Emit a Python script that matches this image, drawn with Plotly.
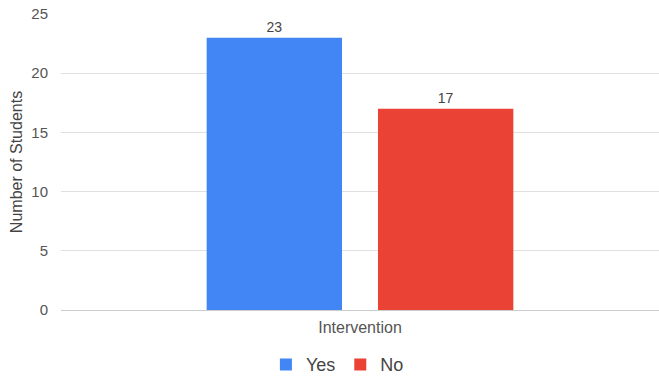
import plotly.graph_objects as go

categories = ["Intervention"]
series_names = ["Yes", "No"]
series_values = [[23], [17]]
series_colors = ["#4285F4", "#EA4335"]
y_ticks = [0, 5, 10, 15, 20, 25]

FONT = "Liberation Sans, Arial, sans-serif"

fig = go.Figure()
for name, vals, col in zip(series_names, series_values, series_colors):
    fig.add_trace(go.Bar(
        x=categories, y=vals, name=name, marker=dict(color=col, line=dict(width=0)),
        text=[str(v) for v in vals], textposition="outside",
        textfont=dict(family=FONT, size=14, color="#444444"),
        cliponaxis=False,
    ))

fig.update_layout(
    width=659, height=376,
    margin=dict(l=61, r=0, t=14, b=66, autoexpand=False),
    paper_bgcolor="white", plot_bgcolor="white",
    barmode="group", bargap=0.427, bargroupgap=0.21,
    font=dict(family=FONT, color="#555555"),
    showlegend=True,
    legend=dict(orientation="h", xref="container", yref="container",
                x=0.512, xanchor="center", y=0.03, yanchor="middle",
                font=dict(family=FONT, size=18, color="#444444"),
                itemwidth=30, traceorder="normal"),
    xaxis=dict(showgrid=False, showline=False, zeroline=False, automargin=False,
               ticks="outside", ticklen=3, tickcolor="rgba(0,0,0,0)",
               tickfont=dict(family=FONT, size=16, color="#555555")),
    yaxis=dict(range=[0, 25], tickvals=y_ticks, ticktext=[str(t) for t in y_ticks],
               showgrid=True, gridcolor="#e0e0e0", gridwidth=1,
               zeroline=True, zerolinecolor="#cccccc", zerolinewidth=1,
               showline=False, automargin=False,
               ticks="outside", ticklen=9, tickcolor="rgba(0,0,0,0)",
               tickfont=dict(family=FONT, size=15, color="#555555"),
               title=dict(text="Number of Students", standoff=4,
                          font=dict(family=FONT, size=16, color="#444444"))),
)

fig.write_html("out.html")
